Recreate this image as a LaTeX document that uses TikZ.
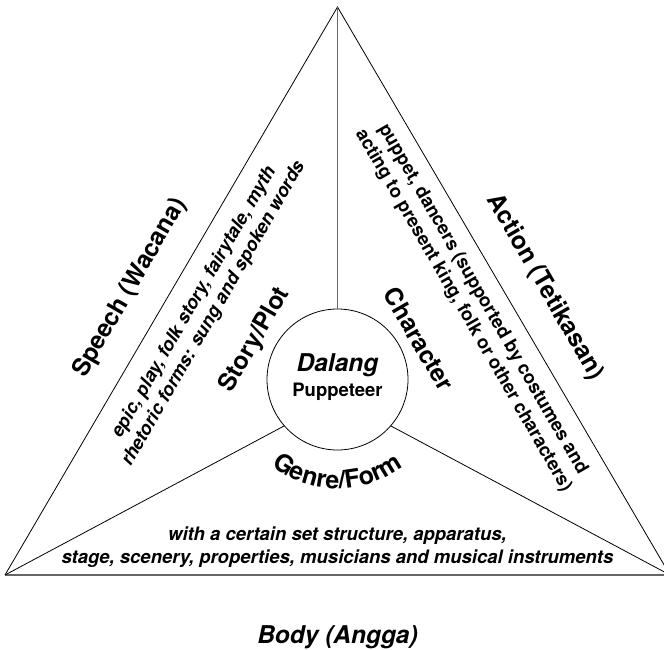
\documentclass[tikz,border=0pt]{standalone}
\usepackage{fontspec}
\setmainfont{TeX Gyre Heros}
\usetikzlibrary{decorations.text}
\begin{document}
\begin{tikzpicture}[x=1pt,y=-1pt,
  edge/.style={black, line width=0.8pt},
  heavy/.style={black!60, line width=1.4pt},
  title/.style={font=\bfseries\fontsize{24.5}{29}\selectfont, inner sep=0pt},
  titleit/.style={font=\bfseries\itshape\fontsize{24.5}{29}\selectfont, inner sep=0pt},
  small/.style={font=\bfseries\fontsize{18.5}{22.5}\selectfont, align=center, inner sep=0pt},
  smallit/.style={font=\bfseries\itshape\fontsize{18.5}{22.5}\selectfont, align=center, inner sep=0pt},
]
\useasboundingbox (0,0) rectangle (664,650);
\fill[white] (0,0) rectangle (664,650);
\begin{scope}
\clip (0,0) rectangle (664,650);
\coordinate (A) at (337.5,7);
\coordinate (BL) at (5,575);
\coordinate (BR) at (670,575);
\node[circle, draw, line width=0.8pt, minimum size=141pt, inner sep=0pt] (C) at (337.5,379.5) {};
\draw[edge] (BL) -- (A) -- (BR);
\draw[heavy] (BL) -- (BR);
\draw[heavy] (A) -- (C.north);
\draw[edge] (BL) -- (C.221.5);
\draw[edge] (BR) -- (C.-41.5);
\end{scope}

\node[title, rotate=60] (speech) at (130,288) {Speech (Wacana)};
\node[smallit, rotate=60] (epic) at (204,308) {epic, play, folk story, fairytale, myth\\rhetoric forms: sung and spoken words};
\node[title, rotate=60] (story) at (255,340) {Story/Plot};

\node[title, rotate=-60] (action) at (545,287) {Action (Tetikasan)};
\node[small, rotate=-60] (puppet) at (473,305) {puppet, dancers (supported by costumes and\\acting to present king, folk or other characters)};
\node[title, rotate=-60] (character) at (419,339) {Character};

\node[titleit, anchor=base] (dalang) at (337.5,371.7) {Dalang};
\node[small, anchor=base] (pup) at (337.5,396.7) {Puppeteer};

\path[decorate, decoration={text along path, text align=center,
  text={|\bfseries\fontsize{25}{30}\selectfont|Genre/Form}}]
  ([shift={(205:109pt)}]C.center) arc[start angle=205, end angle=335, radius=109pt];

\node[smallit, anchor=base] (with) at (337.5,540) {with a certain set structure, apparatus,};
\node[smallit, anchor=base] (stage) at (337.5,563) {stage, scenery, properties, musicians and musical instruments};
\node[titleit, anchor=base] (body) at (337.5,643) {Body (Angga)};
\end{tikzpicture}
\end{document}
